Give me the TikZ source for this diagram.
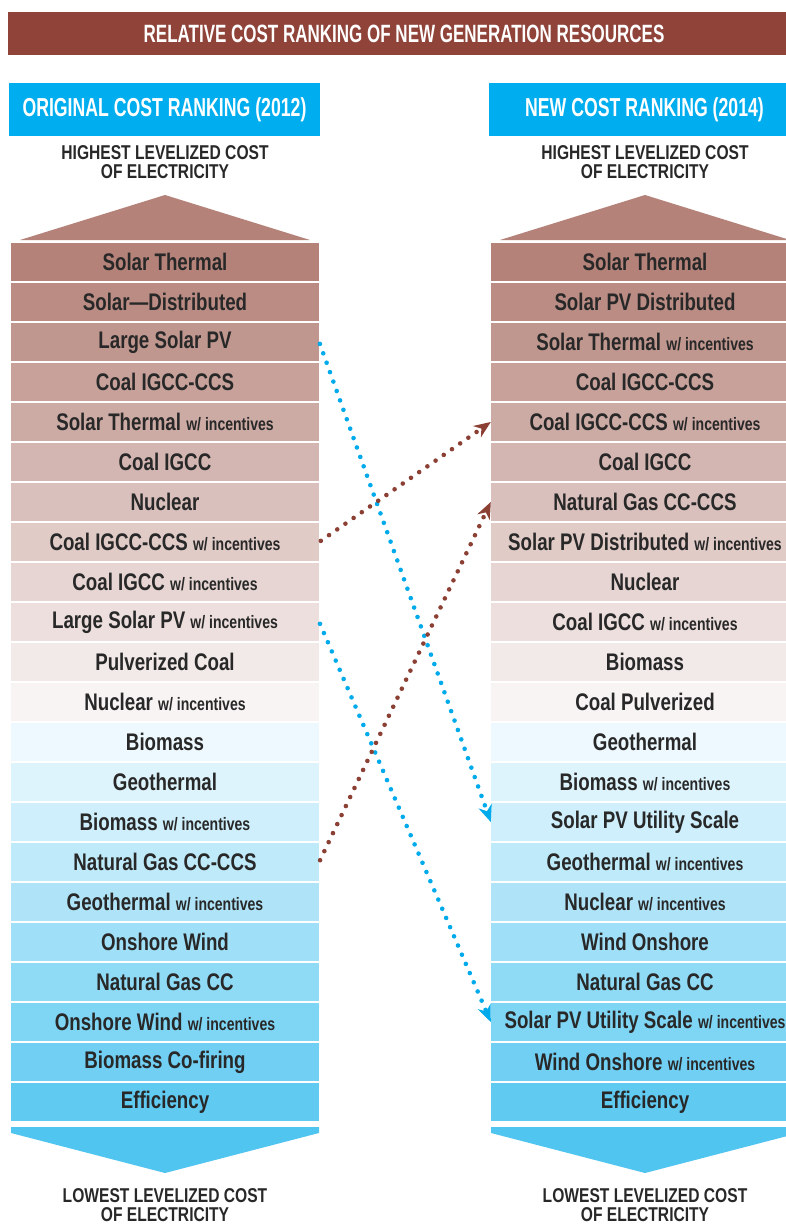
\documentclass[tikz,border=0pt]{standalone}
\usepackage{fontspec}
\setmainfont{Liberation Sans}[FakeStretch=0.78]
\newfontfamily\headfont{Liberation Sans}[FakeStretch=0.68]
\usetikzlibrary{arrows.meta}

\definecolor{titlered}{RGB}{143,67,57}
\definecolor{headblue}{RGB}{0,174,239}
\definecolor{rowbrown}{RGB}{180,130,121}
\definecolor{rowblue}{RGB}{80,197,240}
\definecolor{txtgray}{RGB}{40,40,40}
\definecolor{dotblue}{RGB}{0,170,235}
\definecolor{dotbrown}{RGB}{140,64,52}

\newcommand{\winc}{{\fontsize{18}{18}\selectfont w/ incentives}}

\begin{document}
\begin{tikzpicture}[x=1pt, y=-1pt,
  rowbox/.style={minimum width=308pt, minimum height=38pt, inner sep=0pt, text=txtgray, font=\fontsize{24}{24}\selectfont\bfseries},
  headbox/.style={fill=headblue, minimum width=311pt, minimum height=53pt, inner sep=0pt, text=white, font=\headfont\fontsize{26}{26}\selectfont\bfseries},
  endtext/.style={align=center, text=txtgray, font=\fontsize{20}{19}\selectfont\bfseries},
  bluedots/.style={draw=dotblue, line width=4.6pt, line cap=round, dash pattern=on 0pt off 10pt, shorten <=2pt, -{Stealth[length=17pt,width=14pt,line width=0pt]}},
  browndots/.style={bluedots, draw=dotbrown}]

\useasboundingbox (0,0) rectangle (786,1224);
\clip (0,0) rectangle (786,1224);

% title and column heads
\node[fill=titlered, minimum width=792pt, minimum height=43pt, inner sep=0pt, text=white, font=\headfont\fontsize{25}{25}\selectfont\bfseries] (title) at (404,33.5) {RELATIVE COST RANKING OF NEW GENERATION RESOURCES};
\node[headbox] (oldhead) at (164.5,109.5) {ORIGINAL COST RANKING (2012)};
\node[headbox] (newhead) at (644.5,109.5) {NEW COST RANKING (2014)};

\node[endtext] (oldtop) at (165,162) {HIGHEST LEVELIZED COST\\OF ELECTRICITY};
\node[endtext] (newtop) at (645,162) {HIGHEST LEVELIZED COST\\OF ELECTRICITY};

% arrow ends of the two columns
\foreach \cx in {165,645}{
\fill[rowbrown] ({\cx-145},240) -- (\cx,195) -- ({\cx+145},240) -- cycle;
\fill[rowblue] ({\cx-154},1127) -- ({\cx+154},1127) -- ({\cx+154},1133) -- (\cx,1173) -- ({\cx-154},1133) -- cycle;
}

% ranked rows
\foreach \lt/\rt [count=\i] in {Solar Thermal/Solar Thermal, Solar---Distributed/Solar PV Distributed,
  Large Solar PV/Solar Thermal \winc, Coal IGCC-CCS/Coal IGCC-CCS,
  Solar Thermal \winc/Coal IGCC-CCS \winc, Coal IGCC/Coal IGCC,
  Nuclear/Natural Gas CC-CCS, Coal IGCC-CCS \winc/Solar PV Distributed \winc,
  Coal IGCC \winc/Nuclear, Large Solar PV \winc/Coal IGCC \winc,
  Pulverized Coal/Biomass, Nuclear \winc/Coal Pulverized,
  Biomass/Geothermal, Geothermal/Biomass \winc,
  Biomass \winc/Solar PV Utility Scale, Natural Gas CC-CCS/Geothermal \winc,
  Geothermal \winc/Nuclear \winc, Onshore Wind/Wind Onshore,
  Natural Gas CC/Natural Gas CC, Onshore Wind \winc/Solar PV Utility Scale \winc,
  Biomass Co-firing/Wind Onshore \winc, Efficiency/Efficiency}{
\ifnum\i<13
  \pgfmathsetmacro\p{100-(\i-1)*8.3}\def\rc{rowbrown!\p!white}
\else
  \pgfmathsetmacro\p{10+(\i-13)*9}\def\rc{rowblue!\p!white}
\fi
\node[rowbox, fill=\rc] (L\i) at (165,{262+40*(\i-1)}) {\lt};
\node[rowbox, fill=\rc] (R\i) at (645,{262+40*(\i-1)}) {\rt};
}

\node[endtext] (oldbot) at (165,1205) {LOWEST LEVELIZED COST\\OF ELECTRICITY};
\node[endtext] (newbot) at (645,1205) {LOWEST LEVELIZED COST\\OF ELECTRICITY};

% moves between 2012 and 2014
\draw[bluedots] (L3.east) -- (R15.west);
\draw[bluedots] (L10.east) -- (R20.west);
\draw[browndots] (L8.east) -- (R5.west);
\draw[browndots] (L16.east) -- (R7.west);

\end{tikzpicture}
\end{document}
